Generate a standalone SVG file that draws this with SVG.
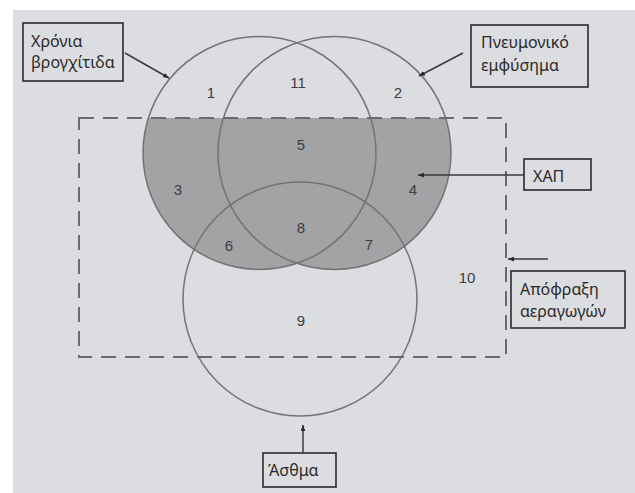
<svg xmlns="http://www.w3.org/2000/svg" width="635" height="493" viewBox="0 0 635 493">
<defs>
<style>
.circ{fill:none;stroke:#747476;stroke-width:1.5}
.num{font-family:"Liberation Sans",Arial,sans-serif;font-size:15px;fill:#3c3c3e;text-anchor:middle}
.lbl{font-family:"Noto Sans","Open Sans",sans-serif;font-size:16px;fill:#2a2a2a}
.box{fill:none;stroke:#2a2a2a;stroke-width:1.6}
.arr{stroke:#3a3a3a;stroke-width:1.5;fill:none;marker-end:url(#ah)}
.dash{fill:none;stroke:#6a6a6c;stroke-width:2;stroke-dasharray:15 9}
</style>
<marker id="ah" viewBox="0 0 10 8" refX="10" refY="4" markerWidth="6" markerHeight="5" orient="auto" markerUnits="userSpaceOnUse">
<path d="M0,0 L10,4 L0,8 Z" fill="#2a2a2a"/>
</marker>
<clipPath id="clipRect"><rect x="79" y="118" width="427" height="239"/></clipPath>
</defs>
<rect x="0" y="0" width="635" height="493" fill="#ffffff"/>
<rect x="13" y="10" width="622" height="483" fill="#dcdde0"/>
<g id="shading" clip-path="url(#clipRect)" fill="#a3a3a6">
<circle cx="259.5" cy="153" r="116.5"/>
<circle cx="334.5" cy="153" r="116.5"/>
</g>
<g id="circle-bronchitis"><circle class="circ" cx="259.5" cy="153" r="116.5"/></g>
<g id="circle-emphysema"><circle class="circ" cx="334.5" cy="153" r="116.5"/></g>
<g id="circle-asthma"><circle class="circ" cx="300" cy="299" r="117"/></g>
<g id="rect-obstruction"><rect class="dash" x="79" y="118" width="427" height="239"/></g>
<g id="numbers">
<text class="num" x="211" y="98">1</text>
<text class="num" x="298" y="88">11</text>
<text class="num" x="398" y="98">2</text>
<text class="num" x="301" y="150">5</text>
<text class="num" x="178" y="195">3</text>
<text class="num" x="413" y="195">4</text>
<text class="num" x="301" y="233">8</text>
<text class="num" x="229" y="251">6</text>
<text class="num" x="369" y="250">7</text>
<text class="num" x="467" y="283">10</text>
<text class="num" x="301" y="326">9</text>
</g>
<g id="label-bronchitis">
<rect class="box" x="23" y="23" width="100" height="58"/>
<text class="lbl" x="31" y="47">Χρόνια</text>
<text class="lbl" x="31" y="68">βρογχίτιδα</text>
</g>
<g id="label-emphysema">
<rect class="box" x="471" y="25" width="117" height="62"/>
<text class="lbl" x="481" y="48">Πνευμονικό</text>
<text class="lbl" x="481" y="71">εμφύσημα</text>
</g>
<g id="label-copd">
<rect class="box" x="524" y="159" width="67" height="31"/>
<text class="lbl" x="533" y="182">ΧΑΠ</text>
</g>
<g id="label-obstruction">
<rect class="box" x="511" y="271" width="114" height="57"/>
<text class="lbl" x="520" y="295">Απόφραξη</text>
<text class="lbl" x="520" y="317">αεραγωγών</text>
</g>
<g id="label-asthma">
<rect class="box" x="263" y="453" width="73" height="34"/>
<text class="lbl" x="268" y="476">Άσθμα</text>
</g>
<g id="connectors">
<line class="arr" x1="125" y1="53" x2="169" y2="78"/>
<line class="arr" x1="463" y1="53" x2="419" y2="76"/>
<line class="arr" x1="524" y1="175" x2="418" y2="175"/>
<line class="arr" x1="548" y1="259" x2="508" y2="259"/>
<line class="arr" x1="303" y1="453" x2="303" y2="425"/>
</g>
</svg>
